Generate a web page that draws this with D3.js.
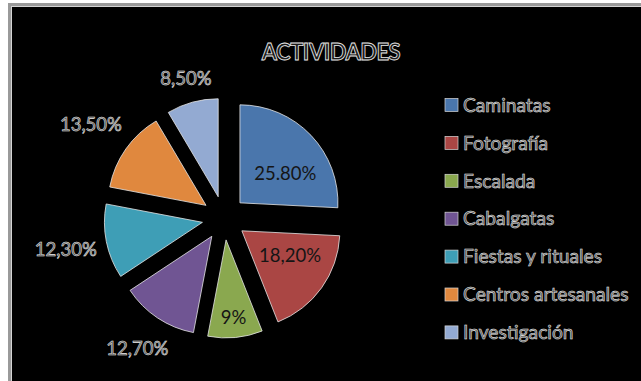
<!DOCTYPE html>
<html>
<head>
<meta charset="utf-8">
<script src="https://cdn.jsdelivr.net/npm/d3@7"></script>
<style>
  html, body { margin: 0; padding: 0; background: #ffffff; }
  svg { display: block; }
  text { font-family: Lato, "Open Sans", sans-serif; }
</style>
</head>
<body>
<svg id="chart" width="641" height="381"></svg>
<script>
// Activity shares (percent), drawn clockwise from 12 o'clock
const categories = ["Caminatas", "Fotografía", "Escalada", "Cabalgatas",
                    "Fiestas y rituales", "Centros artesanales", "Investigación"];
const values = [25.8, 18.2, 9, 12.7, 12.3, 13.5, 8.5];
const valueLabels = ["25.80%", "18,20%", "9%", "12,70%", "12,30%", "13,50%", "8,50%"];
const labelInside = [true, true, true, false, false, false, false];
const colors = ["#4a76ac", "#aa4644", "#8aa84f", "#705593", "#3e9eb6", "#e0883e", "#93aad2"];
const title = "ACTIVIDADES";

const svg = d3.select("#chart");

// Framed black panel
svg.append("rect").attr("x", 8).attr("y", 3).attr("width", 660).attr("height", 400).attr("fill", "#9a9a9a");
svg.append("rect").attr("x", 11).attr("y", 6).attr("width", 660).attr("height", 400).attr("fill", "#d4d4d4");
svg.append("rect").attr("x", 12).attr("y", 7).attr("width", 660).attr("height", 400).attr("fill", "#000000");

// Outlined-text look used for the title, legend and outer labels
function outlined(sel, fill, w) {
  return sel.attr("fill", fill).attr("stroke", "#ececec").attr("stroke-width", w || 0.55);
}

outlined(svg.append("text")
  .attr("x", 331).attr("y", 60)
  .attr("text-anchor", "middle")
  .attr("font-size", 22).attr("font-weight", 700)
  .attr("letter-spacing", -0.5)
  .text(title), "#1a1a1a", 0.8);

// Exploded pie
const cx = 224, cy = 218, radius = 98, explode = 22;
const pie = d3.pie().sort(null).value(d => d)(values);
const arc = d3.arc().innerRadius(0).outerRadius(radius);
const mid = d => (d.startAngle + d.endAngle) / 2;

const g = svg.append("g").attr("transform", `translate(${cx},${cy})`);

g.selectAll("path.slice").data(pie).join("path")
  .attr("class", "slice")
  .attr("transform", d => `translate(${explode * Math.sin(mid(d))},${-explode * Math.cos(mid(d))})`)
  .attr("d", arc)
  .attr("fill", (d, i) => colors[i])
  .attr("stroke", "#e6e6e6")
  .attr("stroke-width", 0.8);

// Value labels: inside wide wedges, pushed outward for narrow ones; others past the rim
const labels = g.selectAll("text.val").data(pie).join("text")
  .attr("class", "val")
  .attr("text-anchor", "middle")
  .attr("dy", "0.35em")
  .attr("font-size", 18.5)
  .text((d, i) => valueLabels[i]);

labels.each(function (d, i) {
  const t = d3.select(this);
  const a = mid(d);
  const span = (d.endAngle - d.startAngle) * 180 / Math.PI;
  let x, y;
  if (labelInside[i]) {
    const frac = span >= 60 ? 0.55 : 0.55 + (60 - span) * 0.009;
    const turn = span >= 60 ? (Math.PI / 2 - a) * 0.25 : 0;
    const ang = a + turn;
    const ox = explode * Math.sin(a), oy = -explode * Math.cos(a);
    x = ox + radius * frac * Math.sin(ang);
    y = oy - radius * frac * Math.cos(ang);
    t.attr("fill", "#151515");
  } else {
    outlined(t, "#4a4a4a");
    const bb = this.getBBox();
    const s = Math.sin(a), c = Math.cos(a);
    const dist = explode + radius + 7 + 12 * Math.abs(s * c)
               + bb.width / 2 * Math.abs(s) + 8 * Math.abs(c);
    x = dist * s;
    y = -dist * c;
  }
  t.attr("x", x).attr("y", y);
});

// Legend
const legend = svg.append("g").attr("transform", "translate(445,105)");
const rows = legend.selectAll("g").data(categories).join("g")
  .attr("transform", (d, i) => `translate(0,${i * 37.9})`);
rows.append("rect")
  .attr("x", 0).attr("y", -6.5).attr("width", 13).attr("height", 13)
  .attr("fill", (d, i) => colors[i])
  .attr("stroke", "#d8d8d8").attr("stroke-width", 0.7);
outlined(rows.append("text")
  .attr("x", 18).attr("dy", "0.35em")
  .attr("font-size", 19.2)
  .text(d => d), "#4a4a4a");
</script>
</body>
</html>
